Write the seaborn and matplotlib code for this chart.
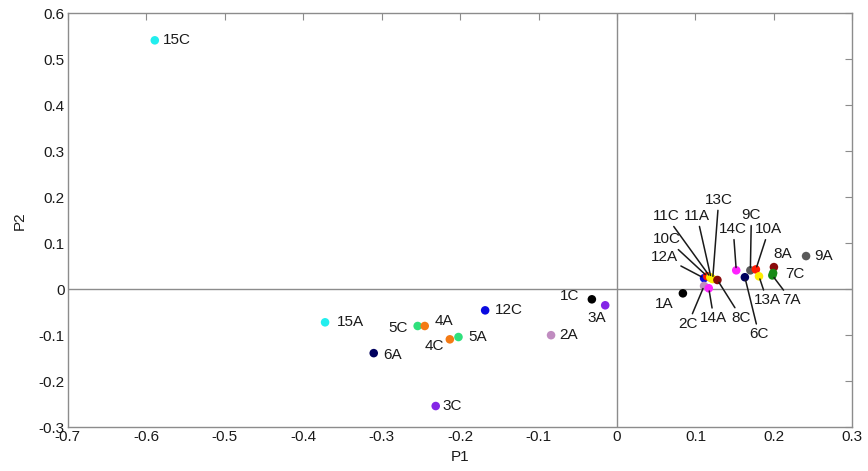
import matplotlib
matplotlib.use('Agg')
import matplotlib.pyplot as plt
import pandas as pd
import seaborn as sns

sns.set_style('white')
plt.rcParams['font.family'] = ['Liberation Sans', 'DejaVu Sans']

# sample labels and their (P1, P2) scores
labels = ['15C', '15A', '6A', '5C', '4A', '4C', '5A', '12C', '2A', '1C', '3A', '3C',
          '1A', '12A', '10C', '11C', '11A', '13C', '8C', '2C', '14A',
          '14C', '6C', '9C', '10A', '13A', '8A', '7C', '7A', '9A']
p1 = [-0.589, -0.372, -0.310, -0.254, -0.245, -0.213, -0.202, -0.168, -0.084, -0.032, -0.015, -0.231,
      0.084, 0.111, 0.115, 0.119, 0.120, 0.122, 0.128, 0.111, 0.117,
      0.152, 0.163, 0.170, 0.177, 0.181, 0.200, 0.199, 0.198, 0.241]
p2 = [0.541, -0.072, -0.139, -0.080, -0.080, -0.109, -0.104, -0.046, -0.100, -0.022, -0.035, -0.254,
      -0.009, 0.024, 0.028, 0.026, 0.024, 0.022, 0.020, 0.007, 0.002,
      0.041, 0.026, 0.041, 0.043, 0.028, 0.048, 0.035, 0.030, 0.072]

group_colors = {
    '1': '#000000', '2': '#c08cc0', '3': '#8426e6', '4': '#f47a14', '5': '#2fe07c',
    '6': '#00005e', '7': '#168a16', '8': '#8a0a0a', '9': '#5a5a5a', '10': '#ff1a00',
    '11': '#ffee00', '12': '#0a0ae0', '13': '#ffee00', '14': '#ff22ff', '15': '#22eeee',
}

# label offsets in pixels (dx, dy) and whether a leader line is drawn
offsets = {
    '15C': (22, 0, False), '15A': (25, 0, False), '6A': (19, -2, False),
    '5C': (-20, -2, False), '4A': (19, 5, False), '4C': (-15, -7, False),
    '5A': (19, 0, False), '12C': (24, 0, False), '2A': (18, 0, False),
    '1C': (-22, 3, False), '3A': (-8, -13, False), '3C': (16, 0, False),
    '1A': (-19, -11, False), '12A': (-40, 21, True), '10C': (-40, 37, True),
    '11C': (-44, 61, True), '11A': (-14, 62, True), '13C': (6, 79, True),
    '8C': (24, -38, True), '2C': (-16, -38, True), '14A': (5, -30, True),
    '14C': (-3, 41, True), '6C': (14, -57, True), '9C': (1, 55, True),
    '10A': (13, 40, True), '13A': (8, -24, True), '8A': (9, 13, False),
    '7C': (22, -1, False), '7A': (19, -25, True), '9A': (17, 0, False),
}

df = pd.DataFrame({'label': labels, 'P1': p1, 'P2': p2})
df['group'] = df['label'].str[:-1]

fig = plt.figure(figsize=(8.68, 4.71), dpi=100)
ax = fig.add_axes([0.078, 0.093, 0.904, 0.879])

ax.axhline(0, color='#8c8c8c', lw=1.0, zorder=1)
ax.axvline(0, color='#8c8c8c', lw=1.0, zorder=1)

sns.scatterplot(data=df, x='P1', y='P2', hue='group', palette=group_colors,
                s=38, linewidth=0, legend=False, ax=ax, zorder=3)

for lab, x, y in zip(labels, p1, p2):
    dx, dy, line = offsets[lab]
    kw = {}
    if line:
        kw['arrowprops'] = dict(arrowstyle='-', color='#1a1a1a', lw=1.1,
                                shrinkA=0, shrinkB=2)
    ax.annotate(lab, xy=(x, y), xytext=(dx, dy), textcoords='offset pixels',
                ha='center', va='center', fontsize=11, color='#1a1a1a', **kw)

ax.set_xlim(-0.7, 0.3)
ax.set_ylim(-0.3, 0.6)
ax.set_xticks([-0.7, -0.6, -0.5, -0.4, -0.3, -0.2, -0.1, 0, 0.1, 0.2, 0.3])
ax.set_xticklabels(['-0.7', '-0.6', '-0.5', '-0.4', '-0.3', '-0.2', '-0.1', '0', '0.1', '0.2', '0.3'])
ax.set_yticks([-0.3, -0.2, -0.1, 0, 0.1, 0.2, 0.3, 0.4, 0.5, 0.6])
ax.set_yticklabels(['-0.3', '-0.2', '-0.1', '0', '0.1', '0.2', '0.3', '0.4', '0.5', '0.6'])
ax.tick_params(direction='in', length=5, width=0.8, color='#8c8c8c',
               top=True, right=True, labelsize=11, labelcolor='#1a1a1a', pad=2)
for s in ax.spines.values():
    s.set_color('#8c8c8c')
    s.set_linewidth(1.0)

ax.set_xlabel('P1', fontsize=11, color='#1a1a1a', labelpad=4)
ax.set_ylabel('P2', fontsize=11, color='#1a1a1a', labelpad=9)

fig.savefig('out.png', dpi=100)
